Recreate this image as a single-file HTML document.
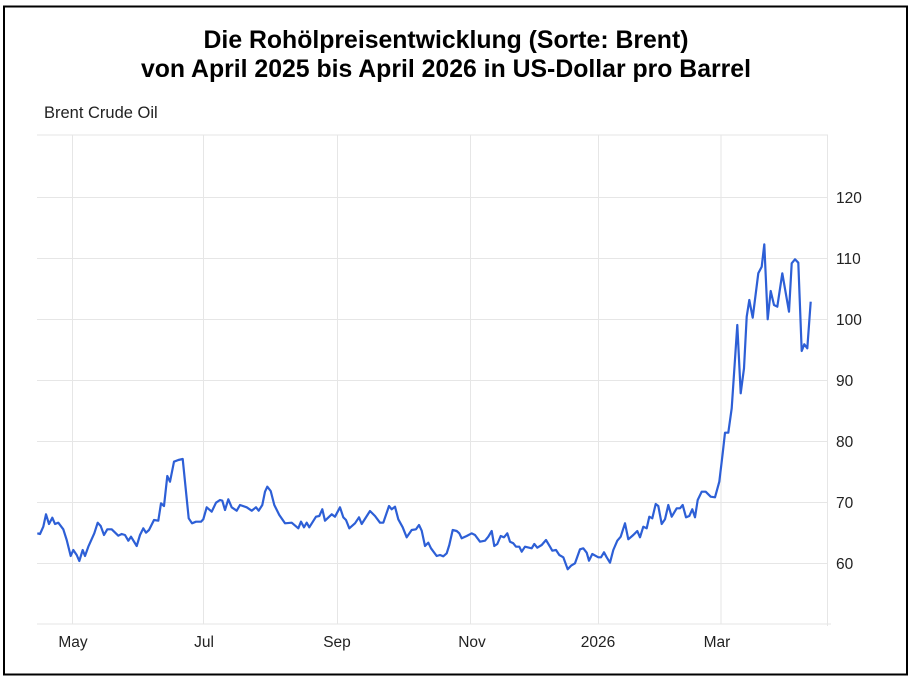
<!DOCTYPE html>
<html><head><meta charset="utf-8"><style>
html,body{margin:0;padding:0;background:#fff;}
svg{display:block;font-family:"Liberation Sans",Arial,sans-serif;}
</style></head><body>
<svg width="914" height="679" viewBox="0 0 914 679" xmlns="http://www.w3.org/2000/svg">
<rect x="0" y="0" width="914" height="679" fill="#fff"/>
<rect x="4" y="6.5" width="903" height="668" fill="none" stroke="#000" stroke-width="2"/>
<text x="446" y="48" text-anchor="middle" font-size="24.8" font-weight="bold" fill="#000">Die Rohölpreisentwicklung (Sorte: Brent)</text>
<text x="446" y="77" text-anchor="middle" font-size="24.8" font-weight="bold" fill="#000">von April 2025 bis April 2026 in US-Dollar pro Barrel</text>
<text x="44" y="118" font-size="16.5" fill="#222">Brent Crude Oil</text>
<g stroke="#e6e6e6" stroke-width="1">
<line x1="37" y1="135" x2="828" y2="135"/>
<line x1="37" y1="197.5" x2="828" y2="197.5"/>
<line x1="37" y1="258.5" x2="828" y2="258.5"/>
<line x1="37" y1="319.5" x2="828" y2="319.5"/>
<line x1="37" y1="380.5" x2="828" y2="380.5"/>
<line x1="37" y1="441.5" x2="828" y2="441.5"/>
<line x1="37" y1="502.5" x2="828" y2="502.5"/>
<line x1="37" y1="563.5" x2="828" y2="563.5"/>
<line x1="37" y1="624" x2="831" y2="624"/>
<line x1="72.5" y1="135" x2="72.5" y2="624"/>
<line x1="203.5" y1="135" x2="203.5" y2="624"/>
<line x1="337.5" y1="135" x2="337.5" y2="624"/>
<line x1="470.5" y1="135" x2="470.5" y2="624"/>
<line x1="598.5" y1="135" x2="598.5" y2="624"/>
<line x1="721" y1="135" x2="721" y2="624"/>
<line x1="827.5" y1="135" x2="827.5" y2="626"/>
</g>
<g font-size="15.5" fill="#222">
<text x="836" y="203">120</text>
<text x="836" y="264">110</text>
<text x="836" y="325">100</text>
<text x="836" y="386">90</text>
<text x="836" y="447">80</text>
<text x="836" y="508">70</text>
<text x="836" y="569">60</text>
</g>
<g font-size="15.5" fill="#222" text-anchor="middle">
<text x="73" y="647">May</text>
<text x="204" y="647">Jul</text>
<text x="337" y="647">Sep</text>
<text x="472" y="647">Nov</text>
<text x="598" y="647">2026</text>
<text x="717" y="647">Mar</text>
</g>
<polyline fill="none" stroke="#2d5fd6" stroke-width="2.2" stroke-linejoin="round" points="
37.3,533.3 40,534 43.3,526.7 46,514.3 49,524 52.3,517.7 55,524 58.3,522.7 63.3,529.3 66.7,540 70.7,556 73.3,550 76.7,555 79.3,561 82.7,550 85,556 88.3,546.7 94.3,533.3 97.7,522.7 100.7,526 104,535 107.3,529.3 111.7,529.3 118.3,535.7 121.7,534 125,535 128.3,540.7 131,536.7 136.7,546 140,535 143.3,528.3 146,532.7 149,530 154,520 158.3,520.7 161,503.3 164,506 167.3,476 170,481.7 174,461.7 178.3,460 182.7,459 188.7,518.3 192,523.3 196,521.7 201,521.7 203.3,519.3 206.7,507.3 211.7,511.7 216,502.7 220,500 222.3,500.7 225,510 228.3,499.3 231.7,507.3 236.7,510.7 240,505 246.7,507.3 251.7,510.7 256,507.3 258.7,510.7 262.3,505 265,491.7 267.3,486.7 270.7,491 274.3,505 279.3,515 285,523.3 291.7,522.7 298.3,528.3 301,521.7 304,527.3 306.7,522.7 309.3,527.3 316,516.7 319.3,516 322.3,509.3 325,520.7 331.7,514.3 335,516.7 340,507.3 343.3,517.3 346,520 349.3,528.3 355,523.3 359,517.3 361.7,524 370,511 375,516 380,522.7 383.3,522.7 389,506 391.7,509.3 395,506.7 398.3,519.3 402.7,527.3 406.7,537.3 411.7,530 416,529.3 419,525 421.7,530.7 425,546 428.3,542.7 431,548.3 436.7,556 440,555 443.3,556.3 446.7,553.3 449.3,545 452.7,530 456.7,531 459.3,533.3 461.7,538.3 466.7,536 471.7,533.3 475,535 480,541.7 485,540.7 488.3,536.7 491.7,531 494.3,546 497.3,544 500.7,536 504,537.3 507.3,533.3 510,541.7 513.3,543.3 516,546.7 519.3,546.7 521.7,551.7 525,546.7 531.7,548.3 534.3,544 537.3,547.7 541.7,545 546,540 550,546.7 552.3,550.7 556,550 559.3,555 563.3,557.3 567.7,569.3 571,565.7 575,563.3 580,549.3 583.3,548.3 586.7,552.7 589,560.7 592.3,554 598.3,557.3 601,557.3 604,552.3 606.7,557.3 610,562.7 613.3,550 617.3,540.7 620.7,536.7 625,523.3 628.3,539.3 633.3,535 637.3,531 640,537.3 643.3,526.7 646.7,528.3 649.3,516.7 652.3,518.3 655.7,504 658.3,506 661.7,524 665,519.3 668.3,505 671.7,516.7 676.7,508.3 680,508.3 682.7,505 686,517.3 689.3,516 692.3,509.3 695,517.3 697.7,500 701.7,491.7 705.7,491.7 710.7,496.7 715,497.3 719.3,481.7 722.7,453.3 725,432.7 728.3,432.7 731.7,408.3 737.3,325 740.7,393.3 744,368.3 746.7,316.7 749.3,300 752.7,317.7 758.3,273.3 761.7,266.7 764.3,244.3 767.7,319.3 770.7,291 774,305 777.3,306.7 782.3,273.3 789,311.7 791.7,263.3 795,259.3 798.3,262.7 801.7,351 804.3,344.3 807.3,348.3 810.7,301.7"/>
</svg>
</body></html>
